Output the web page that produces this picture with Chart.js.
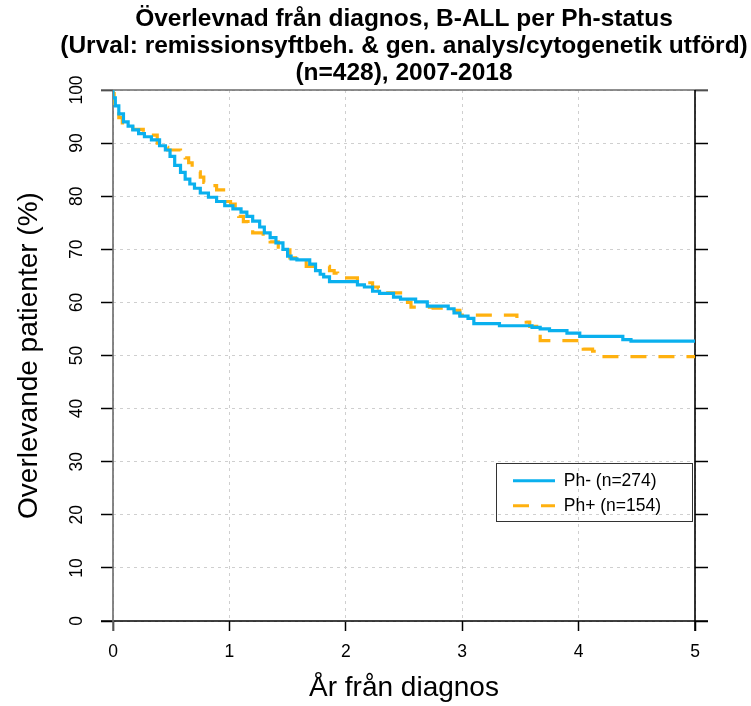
<!DOCTYPE html>
<html><head><meta charset="utf-8">
<script src="https://cdn.jsdelivr.net/npm/chart.js@4.4.0/dist/chart.umd.min.js"></script>
<style>html,body{margin:0;padding:0;background:#fff}#wrap{width:751px;height:706px}</style>
</head><body><div id="wrap"><canvas id="c" width="751" height="706"></canvas></div>
<script>
const titleLines = ['Överlevnad från diagnos, B-ALL per Ph-status',
  '(Urval: remissionsyftbeh. & gen. analys/cytogenetik utförd)',
  '(n=428), 2007-2018'];
const xTitle = 'År från diagnos';
const yTitle = 'Overlevande patienter (%)';
const xTicks = [0, 1, 2, 3, 4, 5];
const yTicks = [0, 10, 20, 30, 40, 50, 60, 70, 80, 90, 100];
const seriesLabels = ['Ph- (n=274)', 'Ph+ (n=154)'];

const phMinusTime = [0, 0.02, 0.05, 0.09, 0.13, 0.17, 0.22, 0.27, 0.33, 0.40, 0.45, 0.49, 0.53, 0.58, 0.62, 0.66, 0.70, 0.75, 0.82, 0.89, 0.96, 1.03, 1.10, 1.15, 1.20, 1.26, 1.30, 1.35, 1.40, 1.46, 1.50, 1.53, 1.58, 1.69, 1.74, 1.78, 1.81, 1.86, 2.10, 2.16, 2.23, 2.29, 2.41, 2.47, 2.60, 2.70, 2.88, 2.93, 2.98, 3.05, 3.10, 3.32, 3.60, 3.67, 3.75, 3.90, 4.01, 4.38, 4.45, 4.52, 5.00];
const phMinusSurv = [100, 98.5, 97.0, 95.5, 94.0, 93.2, 92.5, 91.8, 91.2, 90.6, 89.5, 88.7, 87.5, 85.8, 84.5, 83.2, 82.3, 81.5, 80.6, 79.8, 79.0, 78.2, 77.6, 77.0, 76.2, 75.3, 74.2, 73.1, 72.2, 71.2, 70.0, 68.7, 68.2, 68.0, 67.2, 66.0, 65.3, 64.8, 63.9, 63.3, 62.9, 62.1, 61.7, 61.0, 60.6, 60.1, 59.3, 58.8, 58.0, 57.4, 57.0, 56.0, 55.6, 55.3, 55.0, 54.7, 54.2, 53.6, 53.0, 52.7, 52.7];

const phPlusTime = [0, 0.01, 0.03, 0.05, 0.08, 0.12, 0.17, 0.26, 0.33, 0.38, 0.44, 0.47, 0.58, 0.62, 0.65, 0.68, 0.72, 0.75, 0.78, 0.83, 0.89, 0.95, 0.98, 1.01, 1.05, 1.08, 1.12, 1.16, 1.20, 1.29, 1.35, 1.42, 1.47, 1.52, 1.66, 1.86, 1.90, 1.93, 2.10, 2.16, 2.23, 2.28, 2.31, 2.49, 2.53, 2.56, 2.75, 2.90, 2.98, 3.47, 3.55, 3.58, 3.64, 3.67, 4.01, 4.04, 4.12, 4.16, 4.36, 5.00];
const phPlusSurv = [100, 99.3, 97.5, 96.2, 94.8, 93.8, 93.0, 92.6, 92.0, 91.5, 90.0, 89.2, 88.7, 88.0, 87.2, 86.3, 85.4, 84.6, 83.6, 82.6, 82.0, 81.2, 80.0, 79.0, 78.5, 77.2, 76.2, 75.2, 73.8, 73.1, 72.3, 71.4, 70.4, 69.9, 68.4, 66.8, 66.0, 65.5, 64.6, 64.0, 63.7, 62.9, 62.7, 61.8, 60.8, 60.0, 59.1, 58.9, 58.5, 57.6, 57.0, 56.3, 55.5, 54.3, 52.8, 51.7, 51.2, 50.8, 49.8, 49.8];

const FONT = "'Liberation Sans', Arial, sans-serif";
Chart.defaults.font.family = FONT;
Chart.defaults.color = '#000';

function toXY(t, s) { return t.map((v, i) => ({x: v, y: s[i]})); }

const framePlugin = {
  id: 'frame',
  beforeDatasetsDraw(chart) {
    const {ctx, scales: {x, y}} = chart;
    const x0 = x.getPixelForValue(xTicks[0]), x1 = x.getPixelForValue(xTicks[xTicks.length - 1]);
    const y0 = y.getPixelForValue(yTicks[0]), y1 = y.getPixelForValue(yTicks[yTicks.length - 1]);
    const seg = (ax, ay, bx, by, c, w) => { ctx.beginPath(); ctx.strokeStyle = c; ctx.lineWidth = w; ctx.moveTo(ax, ay); ctx.lineTo(bx, by); ctx.stroke(); };
    ctx.save();
    ctx.setLineDash([]);
    seg(x0 - 12, y1, x1 + 13, y1, '#6a6a6a', 1.6);
    seg(x0 - 12, y0, x1 + 13, y0, '#000', 1.6);
    seg(x0, y1, x0, y0 + 10, '#6a6a6a', 1.6);
    seg(x1, y1, x1, y0 + 10, '#000', 1.6);
    ctx.restore();
  }
};

const legendPlacer = {
  id: 'legendPlacer',
  afterUpdate(chart) {
    const lg = chart.legend, ca = chart.chartArea;
    if (!lg || !ca) return;
    const boxR = ca.right - 3, boxB = ca.bottom - 100, boxW = 196, boxH = 58;
    const boxL = boxR - boxW, boxT = boxB - boxH;
    lg._frame = {l: boxL, t: boxT, w: boxW, h: boxH};
    lg.left = boxL + 9.5; lg.top = boxT + 1.5;
    lg.right = boxR; lg.bottom = boxB + 30;
    lg.width = lg.right - lg.left; lg.height = lg.bottom - lg.top;
    lg.adjustHitBoxes();
  },
  afterDraw(chart) {
    const f = chart.legend && chart.legend._frame;
    if (!f) return;
    const ctx = chart.ctx;
    ctx.save();
    ctx.setLineDash([]);
    ctx.strokeStyle = '#333';
    ctx.lineWidth = 1;
    ctx.strokeRect(f.l + 0.5, f.t + 0.5, f.w, f.h);
    ctx.restore();
  }
};

new Chart(document.getElementById('c'), {
  type: 'line',
  data: {
    datasets: [
      { label: seriesLabels[0], data: toXY(phMinusTime, phMinusSurv), borderColor: '#0AB0EE', backgroundColor: '#0AB0EE',
        borderWidth: 3.2, pointRadius: 0, pointBorderWidth: 3, stepped: 'after', fill: false, borderDash: [] },
      { label: seriesLabels[1], data: toXY(phPlusTime, phPlusSurv), borderColor: '#FFB10F', backgroundColor: '#FFB10F',
        borderWidth: 3.2, pointRadius: 0, pointBorderWidth: 3, stepped: 'after', fill: false, borderDash: [16, 12] }
    ]
  },
  options: {
    responsive: false, animation: false, devicePixelRatio: 1,
    layout: { padding: { left: 57, right: 0, top: 0, bottom: 0 } },
    plugins: {
      title: { display: true, text: titleLines, color: '#000',
        font: { size: 24.5, weight: 'bold', lineHeight: '27px', family: FONT },
        padding: { top: 5.5, bottom: 3.5 } },
      tooltip: { enabled: false },
      legend: {
        position: 'chartArea', align: 'start',
        labels: {
          font: { size: 17.5, family: FONT }, color: '#000', usePointStyle: true, pointStyle: 'line',
          pointStyleWidth: 42, boxHeight: 17.5, padding: 7.5,
          generateLabels: (chart) => {
            const items = Chart.defaults.plugins.legend.labels.generateLabels(chart);
            items.forEach(it => { const ds = chart.data.datasets[it.datasetIndex];
              it.lineDash = ds.borderDash || []; it.lineWidth = ds.borderWidth; it.strokeStyle = ds.borderColor; it.pointStyle = 'line'; });
            return items;
          }
        }
      }
    },
    scales: {
      x: {
        type: 'linear', position: 'bottom', min: xTicks[0], max: xTicks[xTicks.length - 1],
        afterBuildTicks: s => { s.ticks = xTicks.map(v => ({value: v})); },
        ticks: { font: { size: 17.5 }, color: '#000', padding: 11, maxRotation: 0, callback: v => String(v) },
        grid: { color: '#cfcfcf', lineWidth: 1, tickLength: 10, tickColor: '#000', tickWidth: 1.5, tickBorderDash: [] },
        border: { display: false, dash: [3, 4] },
        title: { display: true, text: xTitle, color: '#000', font: { size: 28 }, padding: { top: 0, bottom: 1 } },
        afterFit: s => { s.height = 85; }
      },
      y: {
        type: 'linear', position: 'left', min: yTicks[0], max: yTicks[yTicks.length - 1],
        afterBuildTicks: s => { s.ticks = yTicks.map(v => ({value: v})); },
        ticks: { font: { size: 17.5 }, color: '#000', minRotation: 90, maxRotation: 90, crossAlign: 'center', padding: 9, callback: v => String(v) },
        grid: { color: '#cfcfcf', lineWidth: 1, tickLength: 12, tickColor: '#000', tickWidth: 1.5, tickBorderDash: [] },
        border: { display: false, dash: [3, 4] },
        title: { display: true, text: yTitle, color: '#000', font: { size: 28 }, padding: { top: -44.8, bottom: 0 } },
        afterFit: s => { s.width = 56; }
      },
      y2: {
        type: 'linear', position: 'right', min: yTicks[0], max: yTicks[yTicks.length - 1],
        afterBuildTicks: s => { s.ticks = yTicks.map(v => ({value: v})); },
        ticks: { display: false },
        grid: { drawOnChartArea: false, tickLength: 13, tickColor: '#000', tickWidth: 1.5, tickBorderDash: [] },
        border: { display: false },
        afterFit: s => { s.width = 56; }
      }
    }
  },
  plugins: [framePlugin, legendPlacer]
});
</script>
</body></html>
